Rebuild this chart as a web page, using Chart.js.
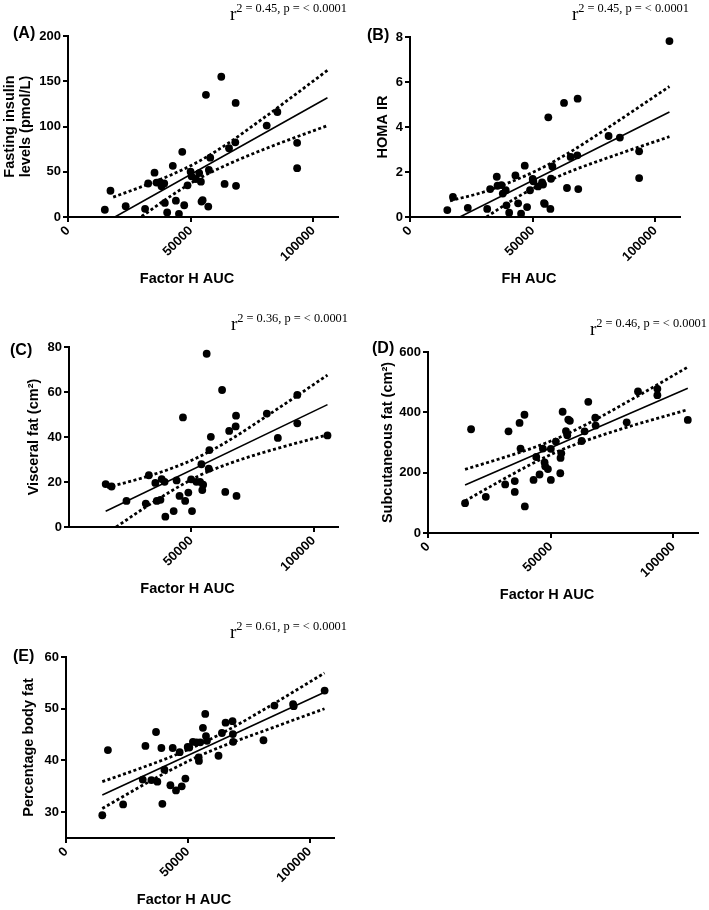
<!DOCTYPE html>
<html>
<head>
<meta charset="utf-8">
<script src="https://cdn.jsdelivr.net/npm/chart.js@4.4.1/dist/chart.umd.min.js"></script>
<style>
  body { margin: 0; background: #fff; }
  #hoja { position: relative; width: 709px; height: 910px; overflow: hidden; }
  #hoja canvas { position: absolute; }
</style>
</head>
<body>
<div id="hoja">
  <canvas id="chartA" width="354" height="300" style="left:0;top:0"></canvas>
  <canvas id="chartB" width="355" height="300" style="left:354px;top:0"></canvas>
  <canvas id="chartC" width="354" height="305" style="left:0;top:300px"></canvas>
  <canvas id="chartD" width="355" height="305" style="left:354px;top:300px"></canvas>
  <canvas id="chartE" width="354" height="305" style="left:0;top:605px"></canvas>
</div>
<script>
// (A) Factor H AUC vs insulina en ayunas
const fhA = [15000, 17300, 23500, 31400, 32650, 35250, 36050, 37400, 38100, 39200, 39450, 40400, 42700, 43950, 45200, 46550, 47350, 48700, 49950, 50350, 52100, 53450, 54150, 54400, 54850, 56200, 57150, 57400, 57950, 62450, 63800, 65600, 68150, 68300, 68450, 80950, 85300, 93350, 93350];
const insulina = [8, 29, 12, 9, 37, 49, 38, 38.5, 34, 37, 15.5, 5, 56.5, 18, 3.5, 72, 13, 35, 50, 45, 42, 48.5, 39, 17, 18.5, 135, 11.5, 52, 65.5, 155, 36.5, 76, 82.5, 126, 34.5, 101, 116, 82, 54];
const rectaA_x = [19100, 105700];
const rectaA_y = [0, 131.7];
const supA_x = [18400, 30000, 42000, 53000, 65000, 80000, 105700];
const supA_y = [22, 33.5, 46.5, 61, 81, 110, 162];
const infA_x = [30000, 42000, 53000, 65000, 80000, 105700];
const infA_y = [0.6, 23.4, 42, 58, 75, 101];

// (B) FH AUC vs HOMA IR
const fhB = [15200, 17500, 23550, 31450, 32650, 35350, 35650, 37250, 37800, 39000, 39300, 40400, 42950, 44050, 45250, 46750, 47700, 48900, 50000, 50250, 52150, 53800, 54200, 54600, 54900, 56350, 57200, 57450, 58000, 62750, 63950, 65450, 68150, 68300, 68550, 80900, 85500, 93350, 93350, 105700];
const homa = [0.31, 0.89, 0.41, 0.36, 1.24, 1.79, 1.39, 1.42, 1.04, 1.19, 0.52, 0.19, 1.85, 0.61, 0.15, 2.28, 0.44, 1.19, 1.69, 1.59, 1.36, 1.54, 1.44, 0.62, 0.58, 4.43, 0.36, 1.70, 2.25, 5.07, 1.29, 2.67, 2.74, 5.26, 1.24, 3.6, 3.53, 2.92, 1.73, 7.82];
const rectaB_x = [20300, 105700];
const rectaB_y = [0, 4.67];
const supB_x = [16300, 30000, 42000, 53000, 65000, 80000, 105700];
const supB_y = [0.72, 1.11, 1.60, 2.14, 2.87, 3.92, 5.8];
const infB_x = [31200, 42000, 53000, 65000, 80000, 105700];
const infB_y = [0, 0.77, 1.43, 2.01, 2.61, 3.57];

// (C) grasa visceral
const fhC = [15000, 17400, 23500, 31400, 32650, 35300, 35900, 37400, 37900, 39100, 39400, 42800, 44000, 45200, 46600, 47500, 48800, 49950, 50300, 52100, 53600, 54150, 54500, 54850, 56300, 57150, 57400, 58000, 62600, 63900, 65500, 68150, 68300, 68500, 80900, 85400, 93350, 93350, 105700];
const visceral = [19.1, 18, 11.6, 10.4, 23, 19.6, 11.6, 12.1, 21.3, 20.1, 4.6, 7.1, 20.7, 13.8, 48.7, 11.6, 15.3, 21.2, 7.1, 20.1, 20.1, 27.9, 16.4, 18.8, 77, 25.9, 34.2, 40.1, 60.9, 15.6, 42.7, 44.7, 49.5, 13.8, 50.4, 39.6, 58.7, 46.1, 40.7];
const rectaC_x = [15000, 105700];
const rectaC_y = [7.0, 54.4];
const supC_x = [15500, 30000, 42000, 53000, 65000, 80000, 105700];
const supC_y = [17.6, 21.8, 26.1, 31.1, 38.2, 48.7, 67.5];
const infC_x = [19300, 30000, 42000, 53000, 65000, 80000, 105700];
const infC_y = [0, 7.9, 16.1, 22.7, 28.0, 33.3, 41.0];

// (D) grasa subcutanea
const fhD = [15100, 17550, 23550, 31450, 32800, 35350, 35350, 37300, 37700, 39300, 39450, 43000, 44100, 45450, 46800, 47500, 47750, 48850, 50050, 50050, 52100, 53900, 54000, 54300, 54850, 56200, 56750, 57150, 57800, 62600, 63800, 65300, 68150, 68300, 80950, 85550, 93450, 93450, 105850];
const subcutanea = [99, 344, 120, 161, 337, 172, 136, 365, 280, 392, 88, 176, 252, 194, 280, 234, 221, 212, 176, 279, 303, 198, 249, 264, 402, 338, 324, 376, 372, 305, 337, 435, 382, 356, 367, 469, 478, 457, 375];
const rectaD_x = [15100, 105850];
const rectaD_y = [159, 479.6];
const bandaD_x = [15100, 30000, 42000, 53000, 65000, 80000, 105850];
const supD_y = [211, 248, 280, 315, 362, 429, 550];
const infD_y = [106, 175, 228, 271, 308, 348, 409];

// (E) porcentaje de grasa corporal
const fhE = [14900, 17200, 23450, 31500, 32600, 35050, 36950, 37500, 39150, 39550, 40400, 42850, 43800, 45150, 46650, 47500, 49000, 49950, 50600, 52100, 53600, 54450, 54550, 55100, 56200, 57150, 57450, 57850, 62600, 64000, 65500, 68350, 68500, 68600, 81050, 85550, 93200, 93450, 106150];
const grasaCorporal = [29.4, 42, 31.5, 36.3, 42.8, 36.2, 45.5, 35.9, 42.4, 31.6, 38.2, 35.2, 42.4, 34.2, 41.6, 35, 36.5, 42.6, 42.5, 43.6, 43.5, 40.6, 39.9, 43.5, 46.3, 49, 44.7, 43.8, 40.9, 45.3, 47.3, 47.6, 45.1, 43.6, 43.9, 50.6, 50.9, 50.5, 53.5];
const rectaE_x = [14900, 106100];
const rectaE_y = [33.3, 53.2];
const bandaE_x = [14900, 30000, 42000, 53000, 65000, 80000, 106100];
const supE_y = [35.9, 38.4, 40.5, 42.7, 45.5, 49.5, 56.9];
const infE_y = [30.7, 34.8, 37.9, 40.5, 42.9, 45.5, 50.0];

// ticks y estadisticos
const ticksX = [0, 50000, 100000];
const ticksXC = [50000, 100000];
const r2 = ['0.45', '0.45', '0.36', '0.46', '0.61'];

const sans = '"Liberation Sans", Arial, Helvetica, sans-serif';
const serif = '"Liberation Serif", "Times New Roman", serif';

const pares = (xs, ys) => xs.map((x, i) => ({ x: x, y: ys[i] }));

// Textos propios de cada panel: letra, titulo del eje x y r2
const textosPanel = {
    id: 'textosPanel',
    afterDraw(chart, args, o) {
        const { ctx, chartArea } = chart;
        ctx.save();
        ctx.fillStyle = '#000';
        ctx.textBaseline = 'alphabetic';
        ctx.textAlign = 'left';
        ctx.font = `bold 16px ${sans}`;
        ctx.fillText(o.letra, o.letraX, o.letraY);

        ctx.font = `bold 14.5px ${sans}`;
        ctx.textAlign = 'center';
        ctx.textBaseline = 'middle';
        ctx.fillText(o.tituloX, (chartArea.left + chartArea.right) / 2 - 16, chartArea.bottom + 62);

        ctx.textAlign = 'left';
        ctx.textBaseline = 'alphabetic';
        const resto = `2 = ${o.r2}, p = < 0.0001`;
        ctx.font = `12.4px ${serif}`;
        const anchoResto = ctx.measureText(resto).width;
        ctx.font = `19px ${serif}`;
        const anchoR = ctx.measureText('r').width;
        const x0 = o.r2Der - anchoResto - anchoR;
        ctx.fillText('r', x0, o.r2Base);
        ctx.font = `12.4px ${serif}`;
        ctx.fillText(resto, x0 + anchoR, o.r2Base - 8.5);
        ctx.restore();
    }
};

const ejeComun = {
    color: '#000',
    font: { family: sans, size: 13, weight: 'bold' }
};

// Función para crear cada panel
const crearPanel = (id, p) => {
    const ctx = document.getElementById(id).getContext('2d');
    new Chart(ctx, {
        type: 'scatter',
        data: {
            datasets: [
                {
                    data: pares(p.supX, p.supY), showLine: true, pointRadius: 0,
                    borderColor: '#000', borderWidth: 2.8, borderDash: [3, 2.5],
                    cubicInterpolationMode: 'monotone'
                },
                {
                    data: pares(p.infX, p.infY), showLine: true, pointRadius: 0,
                    borderColor: '#000', borderWidth: 2.8, borderDash: [3, 2.5],
                    cubicInterpolationMode: 'monotone'
                },
                {
                    data: pares(p.rectaX, p.rectaY), showLine: true, pointRadius: 0,
                    borderColor: '#000', borderWidth: 1.6
                },
                {
                    data: pares(p.xs, p.ys), pointRadius: 3.9,
                    pointBackgroundColor: '#000', pointBorderWidth: 0
                }
            ]
        },
        options: {
            responsive: false,
            animation: false,
            layout: { padding: { top: p.arriba, right: p.derecha, left: 0, bottom: 0 } },
            plugins: {
                legend: { display: false },
                tooltip: { enabled: false },
                textosPanel: p.textos
            },
            scales: {
                x: {
                    type: 'linear', min: 0, max: 110000,
                    afterBuildTicks: s => { s.ticks = p.ticksX.map(v => ({ value: v })); },
                    afterFit: s => { s.height = p.altoX; },
                    ticks: { ...ejeComun, minRotation: 45, maxRotation: 45, padding: 1, autoSkip: false, callback: v => String(v) },
                    grid: { drawOnChartArea: false, drawTicks: true, tickLength: 5, color: '#000', lineWidth: 2 },
                    border: { display: true, color: '#000', width: 2 }
                },
                y: {
                    type: 'linear', min: p.yMin, max: p.yMax,
                    afterBuildTicks: s => { s.ticks = p.ticksY.map(v => ({ value: v })); },
                    afterFit: s => { s.width = p.anchoY; },
                    ticks: { ...ejeComun, padding: 2, callback: v => String(v) },
                    grid: { drawOnChartArea: false, drawTicks: true, tickLength: 5, color: '#000', lineWidth: 2 },
                    border: { display: true, color: '#000', width: 2 },
                    title: {
                        display: true, text: p.tituloY, color: '#000',
                        font: { family: sans, size: 14.5, weight: 'bold', lineHeight: p.interlinea || 1.2 },
                        padding: { top: p.tituloYpad, bottom: 0 }
                    }
                }
            }
        },
        plugins: [textosPanel]
    });
};

document.addEventListener('DOMContentLoaded', () => {
    crearPanel('chartA', {
        xs: fhA, ys: insulina, rectaX: rectaA_x, rectaY: rectaA_y,
        supX: supA_x, supY: supA_y, infX: infA_x, infY: infA_y,
        yMin: 0, yMax: 200, ticksY: [0, 50, 100, 150, 200], ticksX: ticksX,
        arriba: 36, derecha: 16, anchoY: 68, altoX: 83,
        tituloY: ['Fasting insulin', 'levels (pmol/L)'], tituloYpad: 2, interlinea: 16 / 14.5,
        textos: { letra: '(A)', letraX: 13, letraY: 38, tituloX: 'Factor H AUC', r2: r2[0], r2Der: 347, r2Base: 20 }
    });
    crearPanel('chartB', {
        xs: fhB, ys: homa, rectaX: rectaB_x, rectaY: rectaB_y,
        supX: supB_x, supY: supB_y, infX: infB_x, infY: infB_y,
        yMin: 0, yMax: 8, ticksY: [0, 2, 4, 6, 8], ticksX: ticksX,
        arriba: 37, derecha: 29, anchoY: 56, altoX: 83,
        tituloY: 'HOMA IR', tituloYpad: 20,
        textos: { letra: '(B)', letraX: 13, letraY: 40, tituloX: 'FH AUC', r2: r2[1], r2Der: 335, r2Base: 20 }
    });
    crearPanel('chartC', {
        xs: fhC, ys: visceral, rectaX: rectaC_x, rectaY: rectaC_y,
        supX: supC_x, supY: supC_y, infX: infC_x, infY: infC_y,
        yMin: 0, yMax: 80, ticksY: [0, 20, 40, 60, 80], ticksX: ticksXC,
        arriba: 47, derecha: 16, anchoY: 69, altoX: 78,
        tituloY: 'Visceral fat (cm\u00B2)', tituloYpad: 25,
        textos: { letra: '(C)', letraX: 10, letraY: 55, tituloX: 'Factor H AUC', r2: r2[2], r2Der: 348, r2Base: 30 }
    });
    crearPanel('chartD', {
        xs: fhD, ys: subcutanea, rectaX: rectaD_x, rectaY: rectaD_y,
        supX: bandaD_x, supY: supD_y, infX: bandaD_x, infY: infD_y,
        yMin: 0, yMax: 600, ticksY: [0, 200, 400, 600], ticksX: ticksX,
        arriba: 52, derecha: 11, anchoY: 74, altoX: 72,
        tituloY: 'Subcutaneous fat (cm\u00B2)', tituloYpad: 25,
        textos: { letra: '(D)', letraX: 18, letraY: 53, tituloX: 'Factor H AUC', r2: r2[3], r2Der: 353, r2Base: 35 }
    });
    crearPanel('chartE', {
        xs: fhE, ys: grasaCorporal, rectaX: rectaE_x, rectaY: rectaE_y,
        supX: bandaE_x, supY: supE_y, infX: bandaE_x, infY: infE_y,
        yMin: 25, yMax: 60, ticksY: [30, 40, 50, 60], ticksX: ticksX,
        arriba: 52, derecha: 20, anchoY: 66, altoX: 72,
        tituloY: 'Percentage body fat', tituloYpad: 20,
        textos: { letra: '(E)', letraX: 13, letraY: 56, tituloX: 'Factor H AUC', r2: r2[4], r2Der: 347, r2Base: 33 }
    });
});
</script>
</body>
</html>
